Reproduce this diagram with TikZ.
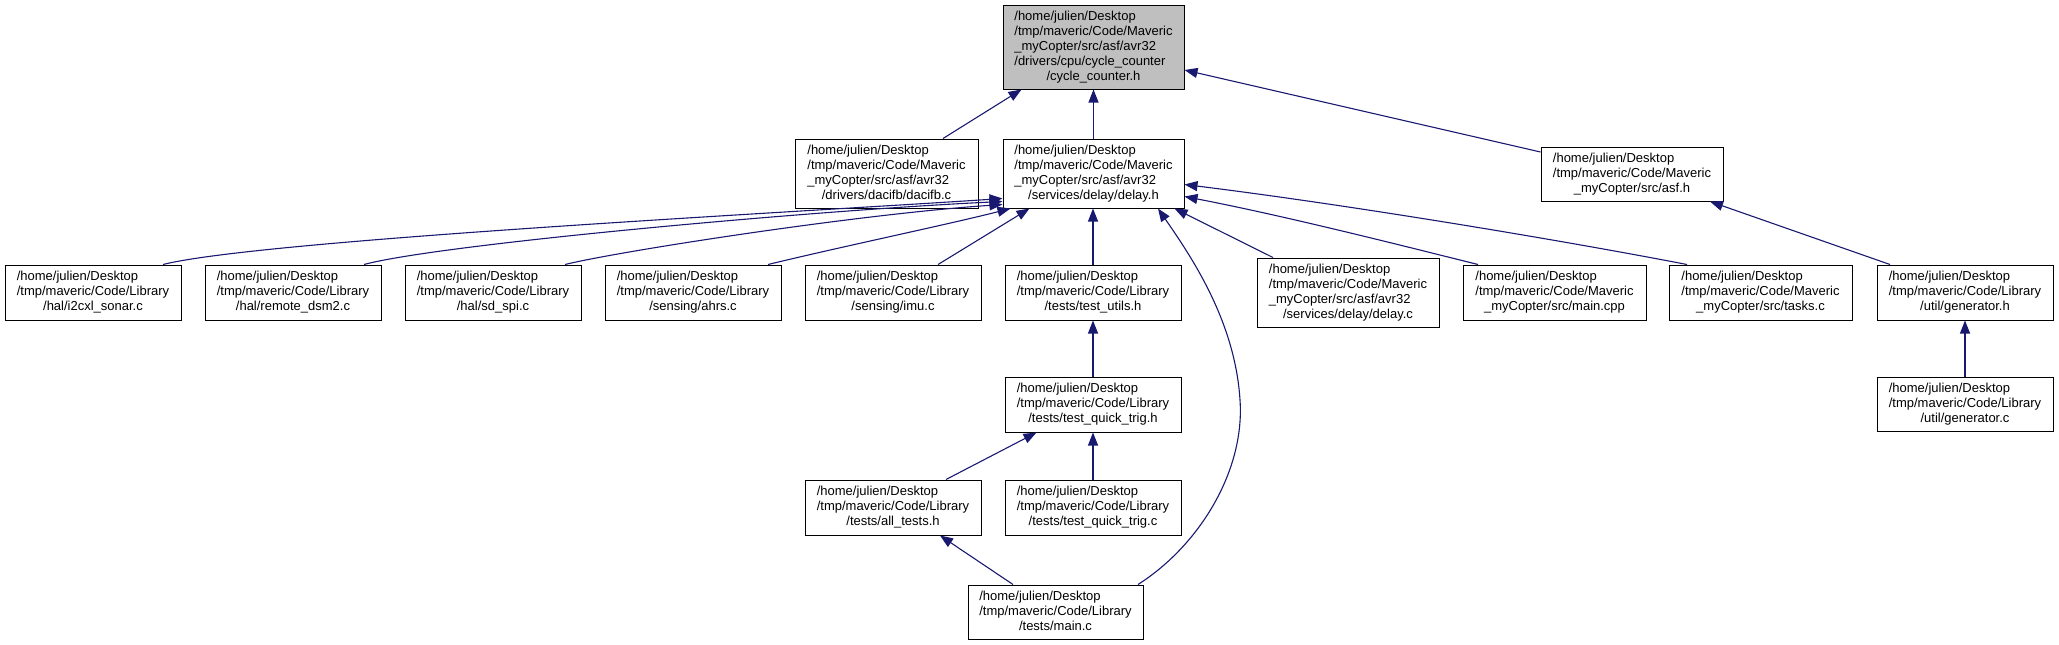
\documentclass[tikz,border=0pt]{standalone}
\usepackage{fontspec}
\setmainfont{Liberation Sans}
\usetikzlibrary{arrows.meta,calc}
\definecolor{edgeblue}{HTML}{191970}
\definecolor{rootgray}{HTML}{BFBFBF}
\newcommand{\dlbl}[2]{\begin{tabular}{@{}l@{}}#1\\\multicolumn{1}{@{}c@{}}{#2}\end{tabular}}
\begin{document}
\begin{tikzpicture}[x=1pt,y=-1pt,font=\fontsize{13}{15}\selectfont,
  box/.style={draw=black, line width=1pt, fill=white, inner sep=0pt, minimum height=55pt, minimum width=176pt},
  mbox/.style={box, minimum width=182pt},
  rootbox/.style={box, fill=rootgray, minimum width=181pt, minimum height=84pt},
  edge/.style={draw=edgeblue, line width=1.1pt, -{Triangle[length=13pt,width=10pt]}}]
\useasboundingbox (0,0) rectangle (2059,645);
% row 1
\node[rootbox] (root) at (1093.5,47) {\dlbl{/home/julien/Desktop\\/tmp/maveric/Code/Maveric\\\_myCopter/src/asf/avr32\\/drivers/cpu/cycle\_counter}{/cycle\_counter.h}};
% row 2
\node[mbox, minimum width=183pt, minimum height=69pt] (dacifb) at (886.5,173.5) {\dlbl{/home/julien/Desktop\\/tmp/maveric/Code/Maveric\\\_myCopter/src/asf/avr32}{/drivers/dacifb/dacifb.c}};
\node[mbox, minimum width=181pt, minimum height=69pt] (delayh) at (1093.5,173.5) {\dlbl{/home/julien/Desktop\\/tmp/maveric/Code/Maveric\\\_myCopter/src/asf/avr32}{/services/delay/delay.h}};
\node[mbox, minimum height=54pt] (asf) at (1632,174) {\dlbl{/home/julien/Desktop\\/tmp/maveric/Code/Maveric}{\_myCopter/src/asf.h}};
% row 3
\node[box] (i2cxl) at (93,292.5) {\dlbl{/home/julien/Desktop\\/tmp/maveric/Code/Library}{/hal/i2cxl\_sonar.c}};
\node[box] (remote) at (293,292.5) {\dlbl{/home/julien/Desktop\\/tmp/maveric/Code/Library}{/hal/remote\_dsm2.c}};
\node[box] (sdspi) at (493,292.5) {\dlbl{/home/julien/Desktop\\/tmp/maveric/Code/Library}{/hal/sd\_spi.c}};
\node[box] (ahrs) at (693,292.5) {\dlbl{/home/julien/Desktop\\/tmp/maveric/Code/Library}{/sensing/ahrs.c}};
\node[box] (imu) at (893,292.5) {\dlbl{/home/julien/Desktop\\/tmp/maveric/Code/Library}{/sensing/imu.c}};
\node[box] (testutils) at (1093,292.5) {\dlbl{/home/julien/Desktop\\/tmp/maveric/Code/Library}{/tests/test\_utils.h}};
\node[mbox, minimum height=69pt] (delayc) at (1348,292.5) {\dlbl{/home/julien/Desktop\\/tmp/maveric/Code/Maveric\\\_myCopter/src/asf/avr32}{/services/delay/delay.c}};
\node[mbox, minimum width=183pt] (maincpp) at (1554.5,292.5) {\dlbl{/home/julien/Desktop\\/tmp/maveric/Code/Maveric}{\_myCopter/src/main.cpp}};
\node[mbox, minimum width=183pt] (tasks) at (1760.5,292.5) {\dlbl{/home/julien/Desktop\\/tmp/maveric/Code/Maveric}{\_myCopter/src/tasks.c}};
\node[box] (genh) at (1965,292.5) {\dlbl{/home/julien/Desktop\\/tmp/maveric/Code/Library}{/util/generator.h}};
% row 4
\node[box] (tqth) at (1093,404.5) {\dlbl{/home/julien/Desktop\\/tmp/maveric/Code/Library}{/tests/test\_quick\_trig.h}};
\node[box, minimum height=54pt] (genc) at (1965,404) {\dlbl{/home/julien/Desktop\\/tmp/maveric/Code/Library}{/util/generator.c}};
% row 5
\node[box] (alltests) at (893,507.5) {\dlbl{/home/julien/Desktop\\/tmp/maveric/Code/Library}{/tests/all\_tests.h}};
\node[box] (tqtc) at (1093,507.5) {\dlbl{/home/julien/Desktop\\/tmp/maveric/Code/Library}{/tests/test\_quick\_trig.c}};
% row 6
\node[box, minimum width=175pt, minimum height=54pt] (mainc) at (1055.5,612) {\dlbl{/home/julien/Desktop\\/tmp/maveric/Code/Library}{/tests/main.c}};
% edges
\draw[edge] ($(dacifb.north)+(56.5,0)$) -- ($(root.south west)+(19,0)$);
\draw[edge] (delayh.north) -- (root.south);
\draw[edge] ($(asf.west)+(0,-22)$) -- ($(root.east)+(0,23)$);
\draw[edge] ($(genh.north)+(-75,0)$) -- ($(asf.south)+(78,0)$);
\draw[edge] (genc.north) -- (genh.south);
\draw[edge] ($(i2cxl.north)+(70,0)$) .. controls (260,240) and (800,212) .. ($(delayh.west)+(0,25)$);
\draw[edge] ($(remote.north)+(71,0)$) .. controls (440,244) and (820,210) .. ($(delayh.west)+(0,28)$);
\draw[edge] ($(sdspi.north)+(72,0)$) .. controls (620,251) and (860,214) .. ($(delayh.west)+(0,31)$);
\draw[edge] ($(ahrs.north)+(75,0)$) .. controls (840,247) and (950,224) .. ($(delayh.south west)+(8,0)$);
\draw[edge] ($(imu.north)+(45,0)$) -- ($(delayh.south west)+(27,0)$);
\draw[edge] (testutils.north) -- (testutils.north |- delayh.south);
\draw[edge] ($(delayc.north)+(-75,0)$) -- ($(delayh.south east)+(-10,0)$);
\draw[edge] ($(maincpp.north)+(-76.5,0)$) .. controls (1380,240) and (1280,215) .. ($(delayh.east)+(0,23)$);
\draw[edge] ($(tasks.north)+(-73.5,0)$) .. controls (1560,240) and (1350,205) .. ($(delayh.east)+(0,11)$);
\draw[edge] ($(mainc.north)+(82.5,0)$) .. controls (1200,545) and (1245,470) .. (1240,400) .. controls (1235,320) and (1190,255) .. ($(delayh.south)+(64.5,0)$);
\draw[edge] (tqth.north) -- (testutils.south);
\draw[edge] ($(alltests.north)+(53,0)$) -- ($(tqth.south west)+(32,0)$);
\draw[edge] (tqtc.north) -- (tqth.south);
\draw[edge] ($(mainc.north)+(-42.5,0)$) -- ($(alltests.south)+(47,0)$);
\end{tikzpicture}
\end{document}
